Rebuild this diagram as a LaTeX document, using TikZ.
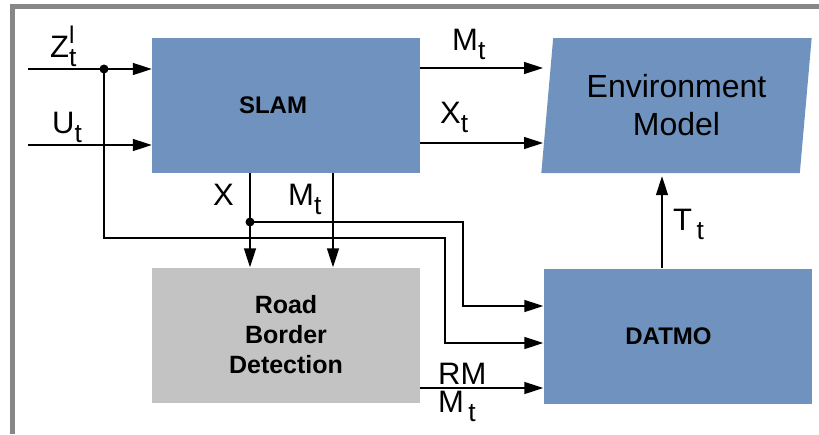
\documentclass[tikz,border=0pt]{standalone}
\usepackage{fontspec}
\setmainfont{Liberation Sans}
\usepackage{graphicx}
\usetikzlibrary{arrows.meta, positioning, shapes.geometric}
\definecolor{slamblue}{RGB}{111,146,190}
\definecolor{rbdgrey}{RGB}{195,195,195}
\definecolor{framegrey}{RGB}{135,135,135}
\newcommand{\tsub}[2]{#1\raisebox{-0.32em}{\scalebox{0.85}{#2}}}
\newcommand{\tsubsup}[3]{#1\rlap{\raisebox{0.45em}{\scalebox{0.78}{#3}}}\raisebox{-0.32em}{\scalebox{0.85}{#2}}}
\tikzset{
  block/.style={
    rectangle,
    fill=slamblue,
    minimum width=268pt,
    minimum height=135pt,
    inner sep=0pt,
    align=center,
    font=\bfseries\fontsize{24}{30}\selectfont
  },
  greyblock/.style={
    block,
    fill=rbdgrey,
    font=\bfseries\fontsize{25}{30}\selectfont
  },
  envblock/.style={
    trapezium,
    trapezium left angle=82,
    trapezium right angle=98,
    trapezium stretches=true,
    fill=slamblue,
    minimum width=271pt,
    minimum height=135pt,
    inner sep=0pt,
    align=center,
    font=\fontsize{32}{38}\selectfont
  },
  sig/.style={-{Triangle[length=19pt, width=12pt]}, line width=1.4pt},
  lbl/.style={inner sep=0pt, anchor=base west, font=\fontsize{31}{34}\selectfont},
  jdot/.style={circle, fill=black, inner sep=0pt, minimum size=9pt},
  frame/.style={draw=framegrey, line width=4.5pt}
}

\begin{document}
\begin{tikzpicture}[x=1pt, y=-1pt]
  \useasboundingbox (0,0) rectangle (819,434);
  \draw[frame] (819,6.5) -- (12.5,6.5) -- (12.5,434);

  \node[block] (slam) at (286,105.5) {\raisebox{-4pt}{SLAM}\hspace*{26pt}};
  \node[greyblock] (rbd) at (286,335) {Road\\Border\\Detection};
  \node[block] (datmo) at (677.5,336) {\raisebox{-2pt}{DATMO}\hspace*{18pt}};
  \node[envblock] (env) at (676.5,105.5) {Environment\\Model};

  % ends and bends of the signal lines
  \coordinate (zin) at (28,69);
  \coordinate (uin) at (28,145);
  \coordinate (zsplit) at (104,69);
  \coordinate (xsplit) at (250,222);
  \coordinate (mtdown) at (333,222);
  \coordinate (envin1) at (543,68);
  \coordinate (envin2) at (543,143);
  \coordinate (zbend) at (445,238);
  \coordinate (zlow) at (445,343);
  \coordinate (xbend) at (463,306);
  \coordinate (rmout) at (430,388);
  \coordinate (tout) at (662,250);

  \draw[sig] (zin) -- (slam.west |- zin);
  \draw[sig] (uin) -- (slam.west |- uin);
  \draw[sig] (slam.east |- envin1) -- (envin1);
  \draw[sig] (slam.east |- envin2) -- (envin2);
  \draw[sig] (slam.south -| xsplit) -- (rbd.north -| xsplit);
  \draw[sig] (slam.south -| mtdown) -- (rbd.north -| mtdown);
  \draw[sig] (xsplit) -| (xbend) -- (datmo.west |- xbend);
  \draw[sig] (zsplit) |- (zbend) -- (zlow) -- (datmo.west |- zlow);
  \draw[sig] (rbd.east |- rmout) -- (datmo.west |- rmout);
  \draw[sig, shorten >=3pt] (datmo.north -| tout) -- (env.south -| tout);

  \node[jdot] (zjoint) at (zsplit) {};
  \node[jdot] (xjoint) at (xsplit) {};

  % signal names
  \node[lbl] (zlab) at (50,57) {\tsubsup{Z}{t}{l}};
  \node[lbl] (ulab) at (52,133) {\tsub{U}{t}};
  \node[lbl] (mtlab) at (452,50) {\tsub{M}{t}};
  \node[lbl] (xtlab) at (440,123) {\tsub{X}{t}};
  \node[lbl] (xlab) at (213,205) {X};
  \node[lbl] (mlab) at (288,205) {\tsub{M}{t}};
  \node[lbl] (ttlab) at (673,230) {\tsub{T}{\,t}};
  \node[lbl] (rmlab) at (438,384) {RM};
  \node[lbl] (rmmlab) at (438,412) {\tsub{M}{\,t}};
\end{tikzpicture}
\end{document}
